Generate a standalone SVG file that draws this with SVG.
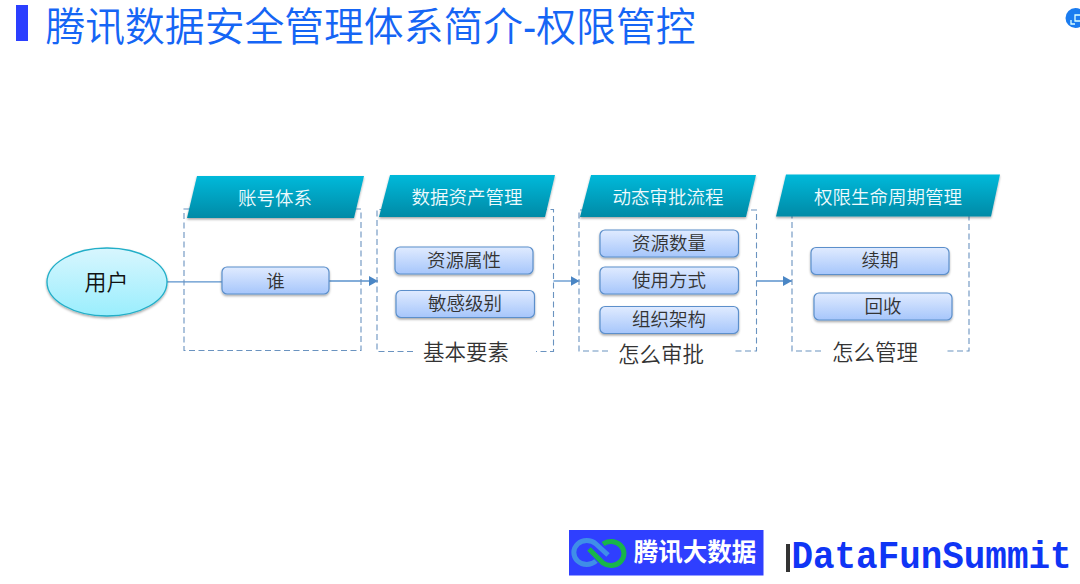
<svg xmlns="http://www.w3.org/2000/svg" width="1080" height="584" viewBox="0 0 1080 584">
<style>
text{font-family:"Noto Sans CJK SC","Liberation Sans",sans-serif;text-anchor:middle}
.hd{fill:url(#hg);filter:url(#sh)}
.hdt{fill:#eefafd;font-size:18.500px;font-weight:350}
.box{fill:none;stroke:#6a93c0;stroke-width:1.1;stroke-dasharray:6 3.5}
.it{fill:url(#bg);stroke:#5b8fcb;stroke-width:1.2;filter:url(#sh)}
.itt{fill:#333;font-size:18.500px;font-weight:350}
.cap{fill:#333;font-size:21.500px;font-weight:350}
.ln{fill:none;stroke:#5a92cc;stroke-width:1.3}
</style>
<defs>
<linearGradient id="hg" x1="0" y1="0" x2="0" y2="1"><stop offset="0" stop-color="#00b9da"/><stop offset="1" stop-color="#028aa6"/></linearGradient>
<linearGradient id="bg" x1="0" y1="0" x2="0" y2="1"><stop offset="0" stop-color="#e0ebff"/><stop offset="1" stop-color="#a6c6fb"/></linearGradient>
<linearGradient id="eg" x1="0" y1="0" x2="0" y2="1"><stop offset="0" stop-color="#d8f6fe"/><stop offset="1" stop-color="#9aeefd"/></linearGradient>
<filter id="sh" x="-10%" y="-20%" width="120%" height="150%"><feDropShadow dx="0" dy="1.5" stdDeviation="1.2" flood-color="#000" flood-opacity=".35"/></filter>
<marker id="ar" markerUnits="userSpaceOnUse" markerWidth="9" markerHeight="10" refX="9" refY="5" orient="auto"><path d="M0 0L9 5L0 10Z" fill="#4a86c5"/></marker>
</defs>
<rect width="1080" height="584" fill="#fff"/>
<g id="title">
<rect x="16" y="5" width="12" height="36" fill="#2b3fff"/>
<text x="370.500" y="41" style="font-family:'Liberation Sans','Noto Sans CJK SC',sans-serif;font-size:39.800px;font-weight:350" fill="#1565f5">腾讯数据安全管理体系简介-权限管控</text>
</g>
<g id="corner-icon">
<circle cx="1075.500" cy="18" r="10" fill="#1a7cf0"/>
<path d="M1071 20v4h4M1075 15h6v6h-6z" fill="none" stroke="#dff" stroke-width="1.300"/>
</g>
<g id="connectors">
<path class="ln" d="M167 281.800H222"/>
<path class="ln" d="M329 281H378" marker-end="url(#ar)"/>
<path class="ln" d="M553.500 281H579.500" marker-end="url(#ar)"/>
<path class="ln" d="M756.500 281H792" marker-end="url(#ar)"/>
</g>
<g id="frames">
<path class="box" d="M184 209H361V350.500H184Z"/>
<path class="box" d="M413 351.500H377V209.500H553.500V351.500H536"/>
<path class="box" d="M608 351H579V210H756.500V351H732"/>
<path class="box" d="M821 351H792V210H969V351H945"/>
</g>
<g id="user"><ellipse cx="107" cy="282" rx="60" ry="34" fill="url(#eg)" stroke="#20aec8" stroke-width="1.300" filter="url(#sh)"/><text x="106.500" y="290" style="font-size:22px;font-weight:350" fill="#111">用户</text></g>
<g id="h1"><path class="hd" d="M197 176H364L354 218H187Z"/><text class="hdt" x="275" y="205">账号体系</text></g>
<g id="h2"><path class="hd" d="M390 175H555L545 217H379Z"/><text class="hdt" x="467" y="204">数据资产管理</text></g>
<g id="h3"><path class="hd" d="M591 175H756L746 217H580Z"/><text class="hdt" x="668" y="204">动态审批流程</text></g>
<g id="h4"><path class="hd" d="M786 174.500H1000L991 216.500H776Z"/><text class="hdt" x="888" y="204">权限生命周期管理</text></g>
<g id="n1"><rect class="it" x="222" y="267" width="107" height="27" rx="5"/><text class="itt" x="275.500" y="288">谁</text></g>
<g id="n2"><rect class="it" x="395" y="247" width="138" height="27" rx="5"/><text class="itt" x="464" y="267">资源属性</text></g>
<g id="n3"><rect class="it" x="396" y="290.500" width="138.500" height="27" rx="5"/><text class="itt" x="465" y="310">敏感级别</text></g>
<g id="n4"><rect class="it" x="600" y="230" width="138.500" height="27" rx="5"/><text class="itt" x="669" y="250">资源数量</text></g>
<g id="n5"><rect class="it" x="600" y="267" width="138.500" height="27" rx="5"/><text class="itt" x="669" y="287">使用方式</text></g>
<g id="n6"><rect class="it" x="600" y="306.500" width="138.500" height="27" rx="5"/><text class="itt" x="669" y="326">组织架构</text></g>
<g id="n7"><rect class="it" x="811" y="247.500" width="138" height="27" rx="5"/><text class="itt" x="880" y="267">续期</text></g>
<g id="n8"><rect class="it" x="814" y="293" width="138" height="27" rx="5"/><text class="itt" x="883" y="313">回收</text></g>
<g id="captions">
<text class="cap" x="466" y="360">基本要素</text>
<text class="cap" x="661" y="362">怎么审批</text>
<text class="cap" x="875" y="360">怎么管理</text>
</g>
<g id="logo">
<rect x="569" y="530" width="194.500" height="45.500" fill="#2f3fff"/>
<path d="M608 555L596 544A13 12 0 1 0 596 561" fill="none" stroke="#3f8ee8" stroke-width="5"/>
<path d="M589 549L603 563A13 12 0 1 0 603 544" fill="none" stroke="#18b54a" stroke-width="5"/>
<text x="695" y="561" style="font-size:24.500px;font-weight:700" fill="#fff">腾讯大数据</text>
</g>
<g id="brand">
<rect x="786" y="544" width="4" height="28" fill="#333"/>
<text transform="translate(931.500 568) scale(.945 1)" style="font-family:'Liberation Mono',monospace;font-size:38px;font-weight:700" fill="#0f35f5">DataFunSummit</text>
</g>
</svg>
